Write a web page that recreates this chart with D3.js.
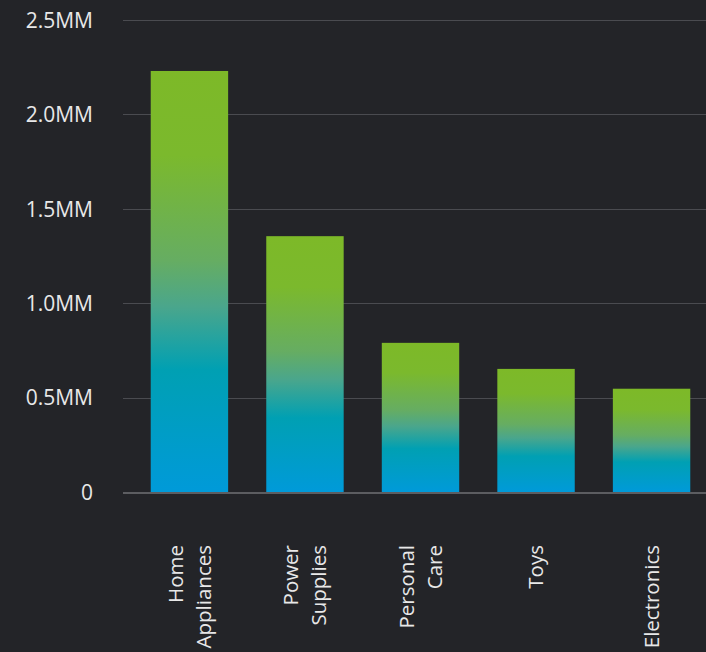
<!DOCTYPE html>
<html>
<head>
<meta charset="utf-8">
<script src="https://cdn.jsdelivr.net/npm/d3@7"></script>
<style>
  html, body { margin: 0; padding: 0; background: #232428; }
  svg { display: block; }
</style>
</head>
<body>
<svg id="chart" width="706" height="652"></svg>
<script>
const categories = ["Home Appliances", "Power Supplies", "Personal Care", "Toys", "Electronics"];
const values = [2230000, 1355000, 790000, 652000, 547000];
const yTicks = [0, 500000, 1000000, 1500000, 2000000, 2500000];
const yTickLabels = ["0", "0.5MM", "1.0MM", "1.5MM", "2.0MM", "2.5MM"];
const categoryLines = [["Home", "Appliances"], ["Power", "Supplies"], ["Personal", "Care"], ["Toys"], ["Electronics"]];

const W = 706, H = 652;
const svg = d3.select("#chart");
const font = "'Open Sans', 'Noto Sans', sans-serif";

const y = d3.scaleLinear().domain([0, 2500000]).range([492, 20]);
const x = d3.scaleBand().domain(categories).range([123, 718]).paddingInner(0.33).paddingOuter(0.24);

// gradient
const defs = svg.append("defs");
const grad = defs.append("linearGradient").attr("id", "barGrad")
  .attr("x1", 0).attr("y1", 0).attr("x2", 0).attr("y2", 1);
[[0, "#7db928"], [0.2, "#7bb92d"], [0.45, "#66ad62"], [0.56, "#4aa68c"], [0.71, "#00a0b3"], [1, "#009ad9"]]
  .forEach(([o, c]) => grad.append("stop").attr("offset", o).attr("stop-color", c));

// gridlines
const yAxis = d3.axisLeft(y).tickValues(yTicks).tickSize(0)
  .tickFormat((d, i) => yTickLabels[i]);
svg.append("g").selectAll("line.grid").data(yTicks.filter(d => d !== 0)).enter().append("line")
  .attr("class", "grid")
  .attr("x1", 123).attr("x2", W)
  .attr("y1", d => Math.round(y(d)) + 0.5).attr("y2", d => Math.round(y(d)) + 0.5)
  .attr("stroke", "#4a4b50").attr("stroke-width", 1);

// y labels
const gAxis = svg.append("g").attr("transform", "translate(93,0)").call(yAxis);
gAxis.select(".domain").remove();
gAxis.selectAll("text")
  .attr("x", 0).attr("dy", "0.35em")
  .attr("fill", "#e8e8e8").style("font-family", font).style("font-size", "21px");

// bars
svg.append("g").selectAll("rect").data(categories).enter().append("rect")
  .attr("x", d => x(d))
  .attr("width", x.bandwidth())
  .attr("y", (d, i) => y(values[i]))
  .attr("height", (d, i) => y(0) - y(values[i]))
  .attr("fill", "url(#barGrad)");

// zero line
svg.append("line")
  .attr("x1", 123).attr("x2", W)
  .attr("y1", y(0) + 1).attr("y2", y(0) + 1)
  .attr("stroke", "#5c5d61").attr("stroke-width", 2);

// category labels
const lineH = 28;
const gx = svg.append("g");
categories.forEach((c, i) => {
  const lines = categoryLines[i];
  const cx = x(c) + x.bandwidth() / 2;
  const t = gx.append("text")
    .attr("transform", `translate(${cx},545) rotate(-90)`)
    .attr("text-anchor", "end")
    .attr("fill", "#e8e8e8")
    .style("font-family", font).style("font-size", "20.5px");
  lines.forEach((l, j) => {
    const off = (j - (lines.length - 1) / 2) * lineH;
    t.append("tspan").attr("x", 0).attr("y", off).attr("dy", "0.35em").text(l);
  });
});
</script>
</body>
</html>
